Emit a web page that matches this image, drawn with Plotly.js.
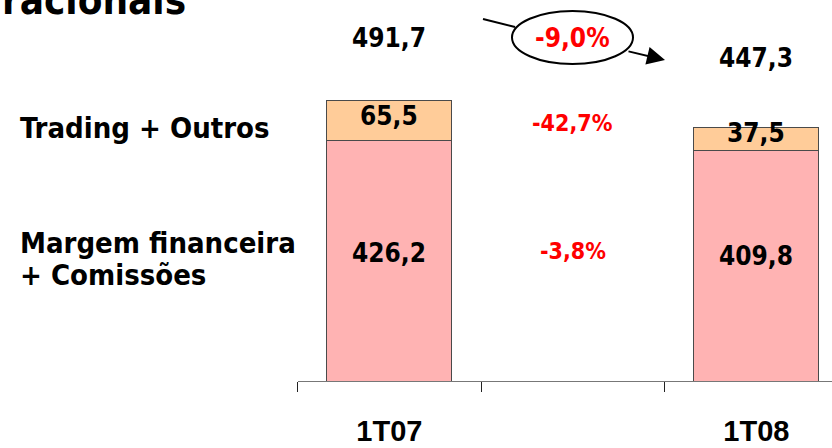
<!DOCTYPE html>
<html>
<head>
<meta charset="utf-8">
<script src="https://cdn.plot.ly/plotly-3.0.1.min.js"></script>
<style>html,body{margin:0;padding:0;background:#fff;}#chart{width:832px;height:448px;}</style>
</head>
<body>
<div id="chart"></div>
<script>
// ---- data ----
const categories = ['1T07', ' ', '1T08'];
const barCategories = ['1T07', '1T08'];
const margemComissoes = [426.2, 409.8];
const tradingOutros = [65.5, 37.5];
const totals = [491.7, 447.3];
const seriesNames = ['Margem financeira + Comissões', 'Trading + Outros'];
const pctLabels = ['-42,7%', '-3,8%', '-9,0%'];
const titleText = 'racionais';

// ---- helpers ----
const W = 832, H = 448;
const px = v => v / W;
const py = v => 1 - v / H;
const fmt = v => v.toFixed(1).replace('.', ',');

const valFont = {family: 'DejaVu Sans Condensed, DejaVu Sans', size: 26, color: '#000', weight: 'bold'};
const redFont = {family: 'DejaVu Sans Condensed, DejaVu Sans', size: 23, color: '#FF0000', weight: 'bold'};
const lblFont = {family: 'DejaVu Sans Condensed, DejaVu Sans', size: 29, color: '#000', weight: 'bold'};

const traces = [
  {type: 'bar', name: seriesNames[0], x: barCategories, y: margemComissoes,
   marker: {color: '#FFB3B3', line: {color: '#4a4a4a', width: 1}}, hoverinfo: 'skip'},
  {type: 'bar', name: seriesNames[1], x: barCategories, y: tradingOutros,
   marker: {color: '#FFCC99', line: {color: '#4a4a4a', width: 1}}, hoverinfo: 'skip'}
];

const annotations = [];
barCategories.forEach((c, i) => {
  const mf = margemComissoes[i], tr = tradingOutros[i], tot = totals[i];
  annotations.push({x: c, y: mf / 2, xref: 'x', yref: 'y', text: fmt(mf), showarrow: false,
    font: valFont, yanchor: 'middle', yshift: [20, 22][i]});
  annotations.push({x: c, y: mf + tr / 2, xref: 'x', yref: 'y', text: fmt(tr), showarrow: false,
    font: valFont, yanchor: 'middle', yshift: [4, 6][i]});
  annotations.push({x: c, y: tot, xref: 'x', yref: 'y', text: fmt(tot), showarrow: false,
    font: valFont, yanchor: 'middle', yshift: [62, 70][i]});
});
// percentage changes in the middle column
annotations.push({x: ' ', y: py(123), xref: 'x', yref: 'paper', text: pctLabels[0], showarrow: false, font: redFont, yanchor: 'middle'});
annotations.push({x: ' ', y: py(251), xref: 'x', yref: 'paper', text: pctLabels[1], showarrow: false, font: redFont, yanchor: 'middle'});
annotations.push({x: ' ', y: py(38), xref: 'x', yref: 'paper', text: pctLabels[2], showarrow: false,
  font: Object.assign({}, redFont, {size: 26}), yanchor: 'middle'});
// left series labels
annotations.push({x: px(18), y: py(128), xref: 'paper', yref: 'paper', text: 'Trading + Outros', showarrow: false, font: lblFont, xanchor: 'left', yanchor: 'middle'});
annotations.push({x: px(18), y: py(243), xref: 'paper', yref: 'paper', text: 'Margem financeira', showarrow: false, font: lblFont, xanchor: 'left', yanchor: 'middle'});
annotations.push({x: px(18), y: py(275), xref: 'paper', yref: 'paper', text: '+ Comissões', showarrow: false, font: lblFont, xanchor: 'left', yanchor: 'middle'});
// cut-off title (cropped at the top edge, as in the source)
annotations.push({x: 0, y: 1, xref: 'paper', yref: 'paper', text: titleText, showarrow: false,
  font: {family: 'DejaVu Sans Condensed, DejaVu Sans', size: 40, color: '#000', weight: 'bold'},
  xanchor: 'left', yanchor: 'middle', yshift: 0});
// arrow
annotations.push({x: px(665), y: py(60), xref: 'paper', yref: 'paper', ax: -38, ay: -9, text: '', showarrow: true,
  arrowhead: 2, arrowsize: 1.8, arrowwidth: 2, arrowcolor: '#000'});

const shapes = [
  {type: 'line', xref: 'paper', yref: 'paper', x0: px(483), y0: py(19), x1: px(515), y1: py(27), line: {color: '#000', width: 2}},
  {type: 'circle', xref: 'paper', yref: 'paper', x0: px(512), x1: px(633), y0: py(11), y1: py(64), line: {color: '#000', width: 2}, fillcolor: 'rgba(0,0,0,0)'}
];

const layout = {
  width: W, height: H,
  margin: {l: 0, r: 0, t: 0, b: 0},
  paper_bgcolor: '#fff', plot_bgcolor: '#fff',
  showlegend: false,
  barmode: 'stack',
  bargap: 0.32,
  xaxis: {
    domain: [297.6 / W, 1],
    type: 'category', categoryorder: 'array', categoryarray: categories,
    range: [-0.5, -0.5 + (W - 297.6) / 183.5],
    tickson: 'boundaries', ticks: 'outside', ticklen: 10, tickcolor: '#222', tickwidth: 1,
    showline: true, linecolor: '#777', linewidth: 1,
    showgrid: false, zeroline: false,
    tickfont: {family: 'Liberation Sans, Arial', size: 29, color: '#000', weight: 'bold'},
    ticklabelstandoff: 24
  },
  yaxis: {
    domain: [1 - 381 / H, 1],
    range: [38, 38 + 381 / 0.619],
    visible: false, showgrid: false, zeroline: false
  },
  annotations: annotations,
  shapes: shapes
};

Plotly.newPlot('chart', traces, layout, {staticPlot: true, displayModeBar: false});
</script>
</body>
</html>
